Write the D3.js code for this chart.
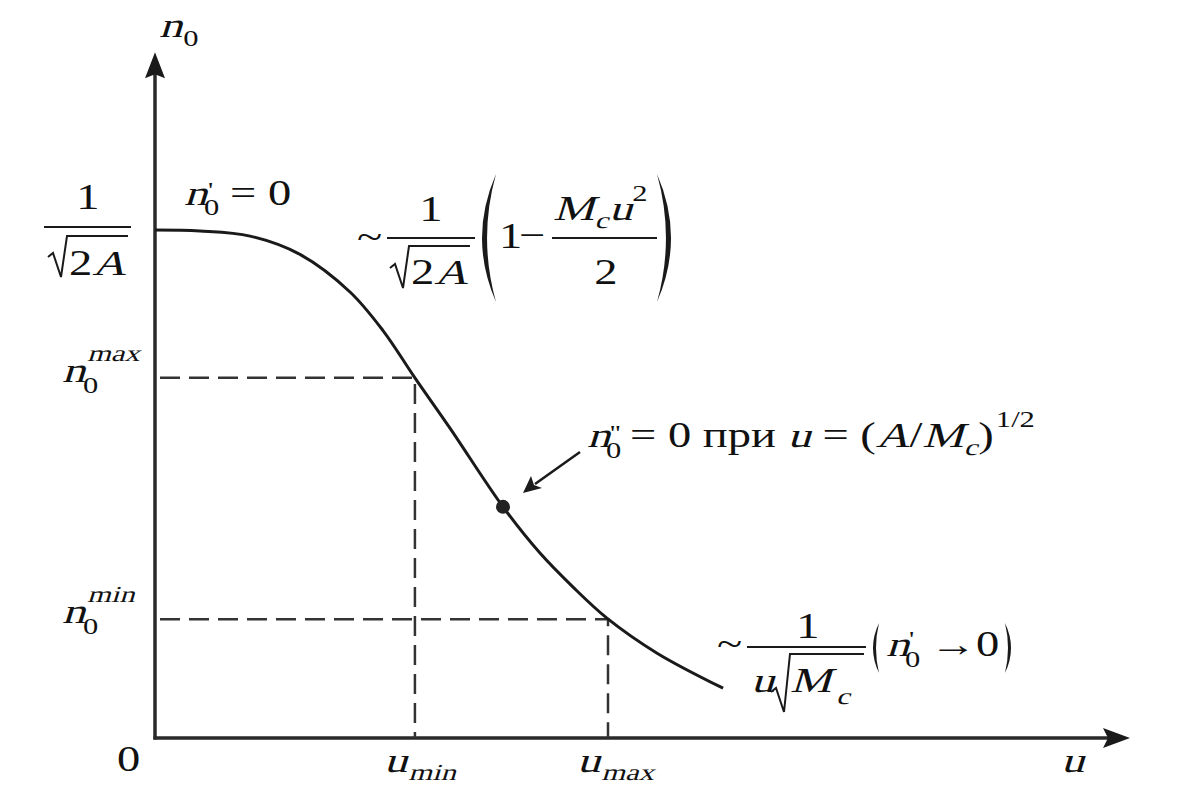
<!DOCTYPE html>
<html>
<head>
<meta charset="utf-8">
<script src="https://cdn.jsdelivr.net/npm/d3@7"></script>
<style>
  html, body { margin: 0; padding: 0; background: #fff; }
  svg { display: block; }
  text { white-space: pre; }
</style>
</head>
<body>
<svg id="chart" width="1188" height="798"></svg>
<script>
// ---- data ----
const uValues  = [0, 0.1875, 0.396, 0.604, 0.8125, 0.95, 1.083, 1.229, 1.45, 1.604, 1.742, 1.883, 2.092, 2.367];
const n0Values = [1.0, 0.998, 0.988, 0.952, 0.878, 0.802, 0.709, 0.610, 0.455, 0.364, 0.297, 0.236, 0.167, 0.098];
const uMarks   = [1.083, 1.8875];          // u_min, u_max
const n0Marks  = [0.709, 0.234];           // n0^max, n0^min
const uMarkLabels  = ["min", "max"];
const n0MarkLabels = ["max", "min"];
const inflection = [1.45, 0.455];
const axisEnds = [4.0625, 1.35];           // u, n0 extents of the arrows

const FONT = "Liberation Serif";
const SX = 1.33, SKEW = -13, BIG = 35, SMALL = 23;
const svg = d3.select("#chart");
const x = d3.scaleLinear().domain([0, 4]).range([155, 1115]);
const y = d3.scaleLinear().domain([0, 1]).range([738, 230]);
const ink = "#1a1a1a";

// ---- axes with arrows ----
const x0 = x(0), y0 = y(0);
const xTip = x(axisEnds[0]), yTip = y(axisEnds[1]);
svg.append("line").attr("x1", x0).attr("y1", y0 + 1.5).attr("x2", x0).attr("y2", yTip + 20)
  .attr("stroke", "#2a2a2a").attr("stroke-width", 3.5);
svg.append("line").attr("x1", x0 - 1.5).attr("y1", y0).attr("x2", xTip - 20).attr("y2", y0)
  .attr("stroke", "#2a2a2a").attr("stroke-width", 3.5);
svg.append("path").attr("d", `M${x0},${yTip} L${x0 - 10},${yTip + 26} L${x0},${yTip + 22} L${x0 + 10},${yTip + 26} Z`).attr("fill", ink);
svg.append("path").attr("d", `M${xTip},${y0} L${xTip - 27},${y0 - 10} L${xTip - 22},${y0} L${xTip - 27},${y0 + 10} Z`).attr("fill", ink);

// ---- dashed guides ----
uMarks.forEach((u, i) => {
  svg.append("path")
    .attr("d", `M${x0 + 5},${y(n0Marks[i])} H${x(u)} V${y0}`)
    .attr("fill", "none").attr("stroke", "#333").attr("stroke-width", 2.5)
    .attr("stroke-dasharray", "20,9");
});

// ---- curve ----
const line = d3.line().x((d, i) => x(uValues[i])).y((d, i) => y(n0Values[i])).curve(d3.curveCatmullRom.alpha(0.5));
svg.append("path").datum(uValues).attr("d", line)
  .attr("fill", "none").attr("stroke", ink).attr("stroke-width", 3);

// ---- inflection dot + arrow ----
svg.append("circle").attr("cx", x(inflection[0])).attr("cy", y(inflection[1])).attr("r", 7).attr("fill", "#222");
svg.append("line").attr("x1", 580).attr("y1", 452).attr("x2", 535).attr("y2", 484)
  .attr("stroke", ink).attr("stroke-width", 2.5);
svg.append("path").attr("d", "M523,493 L531,476 L534,485 L542,488 Z").attr("fill", ink);

// ---- text helpers (glyphs are stretched horizontally like the reference) ----
function piece(px, py, t, size, italic, anchor) {
  const el = svg.append("text").attr("x", 0).attr("y", 0)
    .attr("font-family", FONT).attr("font-size", size).attr("fill", "#111")
    .attr("text-anchor", anchor || "start")
    .attr("transform", `translate(${px},${py}) scale(${SX},1)` + (italic ? ` skewX(${SKEW})` : ""))
    .text(t);
  return el.node().getComputedTextLength() * SX;
}
function flow(xs, ys, parts) {
  let cx = xs;
  parts.forEach(p => {
    cx += (p.dx || 0);
    cx += piece(cx, ys + (p.dy || 0), p.t, p.s || BIG, p.i);
  });
  return cx;
}
function hline(x1, x2, yy, w) {
  svg.append("line").attr("x1", x1).attr("x2", x2).attr("y1", yy).attr("y2", yy)
    .attr("stroke", ink).attr("stroke-width", w || 2);
}
function radical(xa, ytop, ybot, xend) {
  svg.append("path")
    .attr("d", `M${xa},${ybot - 20} L${xa + 5},${ybot - 24} L${xa + 13},${ybot} L${xa + 19},${ytop} L${xend},${ytop}`)
    .attr("fill", "none").attr("stroke", ink).attr("stroke-width", 2).attr("stroke-linejoin", "miter");
}
function paren(xa, ytop, ybot, depth, left) {
  const s = left ? -1 : 1;
  const ym = (ytop + ybot) / 2;
  const thick = Math.max(3, depth * 0.18);
  svg.append("path")
    .attr("d", `M${xa},${ytop} Q${xa + s * depth},${ym} ${xa},${ybot} Q${xa + s * (depth - 2 * thick)},${ym} ${xa},${ytop} Z`)
    .attr("fill", ink);
}

// ---- axis labels ----
flow(159, 37, [{t: "n", i: true}, {t: "0", s: SMALL, dy: 9, dx: 1}]);
piece(117, 771, "0", BIG);
uMarks.forEach((u, i) => {
  flow(x(u) - 31, 772, [{t: "u", i: true}, {t: uMarkLabels[i], i: true, s: SMALL, dy: 8, dx: 1}]);
});
piece(1061, 772, "u", BIG, true);

// n0^max, n0^min
n0Marks.forEach((v, i) => {
  const yy = y(v);
  piece(62, yy + 4, "n", BIG, true);
  piece(83, yy + 15, "0", SMALL);
  piece(87, yy - 17, n0MarkLabels[i], SMALL, true);
});

// 1/sqrt(2A) on the y axis
piece(88, 209, "1", BIG, false, "middle");
hline(44, 131, 227);
radical(48, 236, 277, 128);
flow(69, 275, [{t: "2"}, {t: "A", i: true}]);

// n0' = 0
piece(184, 205, "n", BIG, true);
piece(204, 215, "0", SMALL);
piece(208, 197, "'", 22);
piece(230, 205, "= 0", BIG);

// ~ 1/sqrt(2A) (1 - Mc u^2 / 2)
piece(357, 249, "~", BIG);
piece(431, 221, "1", BIG, false, "middle");
hline(387, 475, 238);
radical(390, 246, 288, 470);
flow(411, 284, [{t: "2"}, {t: "A", i: true}]);
paren(496, 174, 302, 28, true);
piece(499, 248, "1", BIG);
piece(519, 247, "\u2212", BIG);
hline(552, 657, 238);
flow(553, 220, [{t: "M", i: true}, {t: "c", i: true, s: SMALL, dy: 8}, {t: "u", i: true, dx: 1}, {t: "2", s: SMALL, dy: -19}]);
piece(606, 284, "2", BIG, false, "middle");
paren(657, 174, 302, 28, false);

// n0'' = 0 при u = (A/Mc)^(1/2)
piece(587, 447, "n", BIG, true);
piece(606, 458, "0", SMALL);
piece(610, 440, "''", 22);
flow(630, 447, [{t: "= 0 при "}, {t: "u", i: true}, {t: " = ("}, {t: "A", i: true}, {t: "/"}, {t: "M", i: true},
  {t: "c", i: true, s: SMALL, dy: 8}, {t: ")", dx: 1}, {t: "1/2", s: SMALL, dy: -20, dx: 2}]);

// ~ 1/(u sqrt(Mc)) (n0' -> 0)
piece(717, 656, "~", BIG);
piece(808, 638, "1", BIG, false, "middle");
hline(747, 866, 647);
piece(751, 692, "u", BIG, true);
radical(771, 654, 712, 864);
piece(790, 692, "M", BIG, true);
piece(836, 704, "c", SMALL, true);
paren(879, 623, 673, 12, true);
piece(886, 656, "n", BIG, true);
piece(905, 667, "0", SMALL);
piece(909, 646, "'", 22);
piece(930, 656, "\u2192", BIG);
piece(976, 656, "0", BIG);
paren(1005, 623, 673, 12, false);
</script>
</body>
</html>
